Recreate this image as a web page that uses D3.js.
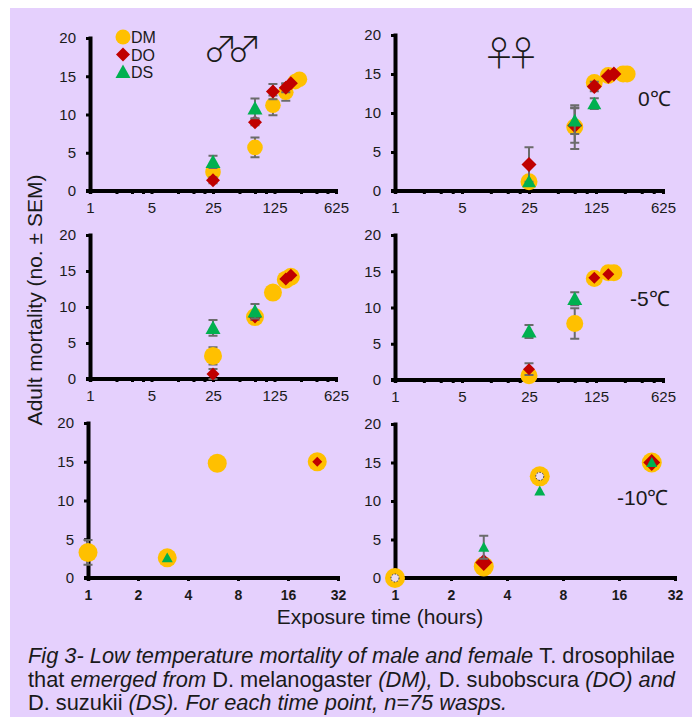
<!DOCTYPE html>
<html lang="en">
<head>
<meta charset="UTF-8">
<title>Low temperature mortality of T. drosophilae</title>
<script src="https://d3js.org/d3.v7.min.js"></script>
<style>
  body { margin: 0; background: #fff; }
  svg text { font-family: "Liberation Sans", Arial, sans-serif; fill: #1a1a1a; }
  .axis .domain { stroke: #000; stroke-width: 4; stroke-linecap: square; }
  .axis .tick line { stroke: #000; stroke-width: 3; }
  .axis .tick text { font-size: 15px; }
  .axis.bold .tick text { font-size: 14px; font-weight: bold; }
  .err { stroke: #6b6b6b; stroke-width: 2; fill: none; }
  .sym { font-family: "Noto Sans CJK JP", "DejaVu Sans", sans-serif; font-weight: 300; }
</style>
</head>
<body>
<svg id="chart" width="696" height="717"></svg>
<script>
// each point: [hours, mean mortality, SEM]
const male0_DM = [[25, 2.5, 0.5], [75, 5.7, 1.3], [120, 11.2, 1.3], [168, 12.9, 1.1], [216, 14.3, 0], [240, 14.6, 0]];
const male0_DO = [[25, 1.4, 0.4], [75, 9.0, 0.4], [120, 13.0, 1.0], [168, 13.5, 0.6], [192, 14.1, 0]];
const male0_DS = [[25, 3.8, 0.8], [75, 10.8, 1.3]];

const female0_DM = [[25, 1.2, 0], [75, 8.2, 2.8], [120, 13.9, 0], [168, 14.8, 0], [240, 15.0, 0], [264, 15.0, 0]];
const female0_DO = [[25, 3.4, 2.2], [75, 8.4, 2.2], [120, 13.4, 0.6], [168, 14.7, 0], [192, 15.0, 0]];
const female0_DS = [[25, 1.2, 0], [75, 9.0, 1.7], [120, 11.2, 0.7]];

const male5_DM = [[25, 3.2, 1.2], [75, 8.6, 0.6], [120, 12.0, 0], [168, 13.8, 0], [192, 14.2, 0]];
const male5_DO = [[25, 0.7, 0.7], [75, 8.6, 0.4], [168, 13.9, 0], [192, 14.4, 0]];
const male5_DS = [[25, 7.1, 1.1], [75, 9.4, 1.0]];

const female5_DM = [[25, 0.6, 0], [75, 7.8, 2.1], [120, 14.0, 0], [168, 14.8, 0], [192, 14.8, 0]];
const female5_DO = [[25, 1.5, 0.8], [120, 14.1, 0], [168, 14.6, 0]];
const female5_DS = [[25, 6.7, 0.9], [75, 11.2, 0.9]];

const male10_DM = [[1, 3.3, 1.6], [3, 2.6, 0], [6, 14.8, 0], [24, 15.0, 0]];
const male10_DO = [[24, 15.0, 0]];
const male10_DS = [[3, 2.6, 0]];

const female10_DM = [[1, 0, 0], [3, 1.5, 0], [6, 13.2, 0], [24, 15.0, 0]];
const female10_DO = [[3, 2.0, 0], [24, 15.0, 0]];
const female10_DS = [[3, 4.0, 1.5], [6, 11.3, 0], [24, 15.0, 0]];

const series = ["DM", "DO", "DS"];
const colors = {DM: "#FFC000", DO: "#C00000", DS: "#00B050"};
const yTicks = [0, 5, 10, 15, 20];
const dayTicks = [1, 5, 25, 125, 625];
const hourTicks = [1, 2, 4, 8, 16, 32];
const tempLabels = ["0\u2103", "-5\u2103", "-10\u2103"];

// layout of the six panels
const panels = [
  {data: {DM: male0_DM, DO: male0_DO, DS: male0_DS}, xr: [90, 336], yr: [191, 38], base: 5, r: 7.8, d: 7, t: 15},
  {data: {DM: female0_DM, DO: female0_DO, DS: female0_DS}, xr: [395, 663], yr: [191, 35], base: 5, r: 8.5, d: 7.5, t: 14, temp: 0, tx: 638, ty: 106},
  {data: {DM: male5_DM, DO: male5_DO, DS: male5_DS}, xr: [90, 336], yr: [379, 235], base: 5, r: 9, d: 6.5, t: 15},
  {data: {DM: female5_DM, DO: female5_DO, DS: female5_DS}, xr: [395, 663], yr: [380, 235], base: 5, r: 8.5, d: 6, t: 15, temp: 1, tx: 630, ty: 306},
  {data: {DM: male10_DM, DO: male10_DO, DS: male10_DS}, xr: [88, 338], yr: [578, 423], base: 2, r: 9.5, d: 5, t: 11},
  {data: {DM: female10_DM, DO: female10_DO, DS: female10_DS}, xr: [395, 675], yr: [578, 424], base: 2, r: 10, d: 8.5, t: 11, temp: 2, tx: 617, ty: 505, hollow: [1, 6]}
];

const svg = d3.select("#chart");
svg.append("rect").attr("x", 10).attr("y", 8).attr("width", 682).attr("height", 709).attr("fill", "#E5D0FD");

function marker(g, type, cx, cy, p) {
  if (type === "DM") {
    g.append("circle").attr("cx", cx).attr("cy", cy).attr("r", p.r).attr("fill", colors.DM);
  } else if (type === "DO") {
    const s = p.d;
    g.append("path").attr("d", `M${cx},${cy - s}L${cx + s},${cy}L${cx},${cy + s}L${cx - s},${cy}Z`).attr("fill", colors.DO);
  } else {
    const w = p.t / 2, h = p.t * 0.9;
    g.append("path").attr("d", `M${cx},${cy - h * 0.55}L${cx + w},${cy + h * 0.45}L${cx - w},${cy + h * 0.45}Z`).attr("fill", colors.DS);
  }
}

panels.forEach(p => {
  const g = svg.append("g");
  const x = d3.scaleLog().base(p.base).domain(p.base === 5 ? [1, 625] : [1, 32]).range(p.xr);
  const y = d3.scaleLinear().domain([0, 20]).range(p.yr);
  const labels = p.base === 5 ? dayTicks : hourTicks;
  const ticks = p.base === 5 ? x.ticks() : hourTicks;

  const xa = g.append("g").attr("class", "axis" + (p.base === 2 ? " bold" : ""))
    .attr("transform", `translate(0,${p.yr[0]})`)
    .call(d3.axisBottom(x).tickValues(ticks).tickSize(3).tickSizeOuter(0).tickPadding(p.base === 2 ? 9 : 8)
      .tickFormat(d => labels.includes(d) ? d : ""));
  xa.select(".domain").attr("d", `M${p.xr[0] - 2},0H${p.xr[1]}`);

  g.append("g").attr("class", "axis")
    .attr("transform", `translate(${p.xr[0]},0)`)
    .call(d3.axisLeft(y).tickValues(yTicks).tickSize(4).tickSizeOuter(0).tickPadding(10));

  series.forEach(s => {
    p.data[s].forEach(([h, v, e]) => {
      if (e > 0) {
        const cx = x(h), c = 4.5;
        g.append("path").attr("class", "err")
          .attr("d", `M${cx},${y(v - e)}V${y(v + e)}M${cx - c},${y(v + e)}H${cx + c}M${cx - c},${y(v - e)}H${cx + c}`);
      }
      marker(g, s, x(h), y(v), p);
    });
  });

  if (p.hollow) {
    p.hollow.forEach(h => {
      const pt = p.data.DM.find(d => d[0] === h);
      g.append("circle").attr("cx", x(h)).attr("cy", y(pt[1])).attr("r", 4)
        .attr("fill", "#EADCF2").attr("stroke", "#333").attr("stroke-width", 1).attr("stroke-dasharray", "1.5,1.5");
    });
  }

  if (p.temp !== undefined) {
    g.append("text").attr("x", p.tx).attr("y", p.ty).style("font-size", "21px").text(tempLabels[p.temp]);
  }
});

// legend
const legend = svg.append("g");
series.forEach((s, i) => {
  const ly = 37 + i * 17.5;
  marker(legend, s, 123, ly, {r: 7.5, d: 7, t: 15});
  legend.append("text").attr("x", 131).attr("y", ly + 6).style("font-size", "16px").text(s);
});

svg.append("text").attr("class", "sym").attr("x", 203).attr("y", 62)
  .style("font-size", "35px").style("letter-spacing", "-11px").text("\u2642\u2642");
svg.append("text").attr("class", "sym").attr("x", 482).attr("y", 66)
  .style("font-size", "34px").style("letter-spacing", "-10px").text("\u2640\u2640");

svg.append("text").attr("transform", "translate(42,300) rotate(-90)").attr("text-anchor", "middle")
  .style("font-size", "21px").text("Adult mortality (no. \u00b1 SEM)");
svg.append("text").attr("x", 380).attr("y", 624).attr("text-anchor", "middle")
  .style("font-size", "21px").text("Exposure time (hours)");

// caption, italic runs as in the original
const caption = [
  [["Fig 3- Low temperature mortality of male and female ", 1], ["T. drosophilae", 0]],
  [["that ", 0], ["emerged from ", 1], ["D. melanogaster ", 0], ["(DM), ", 1], ["D. subobscura ", 0], ["(DO) and", 1]],
  [["D. suzukii ", 0], ["(DS). For each time point, n=75 wasps.", 1]]
];
caption.forEach((line, i) => {
  const t = svg.append("text").attr("x", 28).attr("y", 663 + i * 23.5).style("font-size", "21.8px");
  line.forEach(([str, it]) => t.append("tspan").style("font-style", it ? "italic" : "normal").text(str));
});
</script>
</body>
</html>
